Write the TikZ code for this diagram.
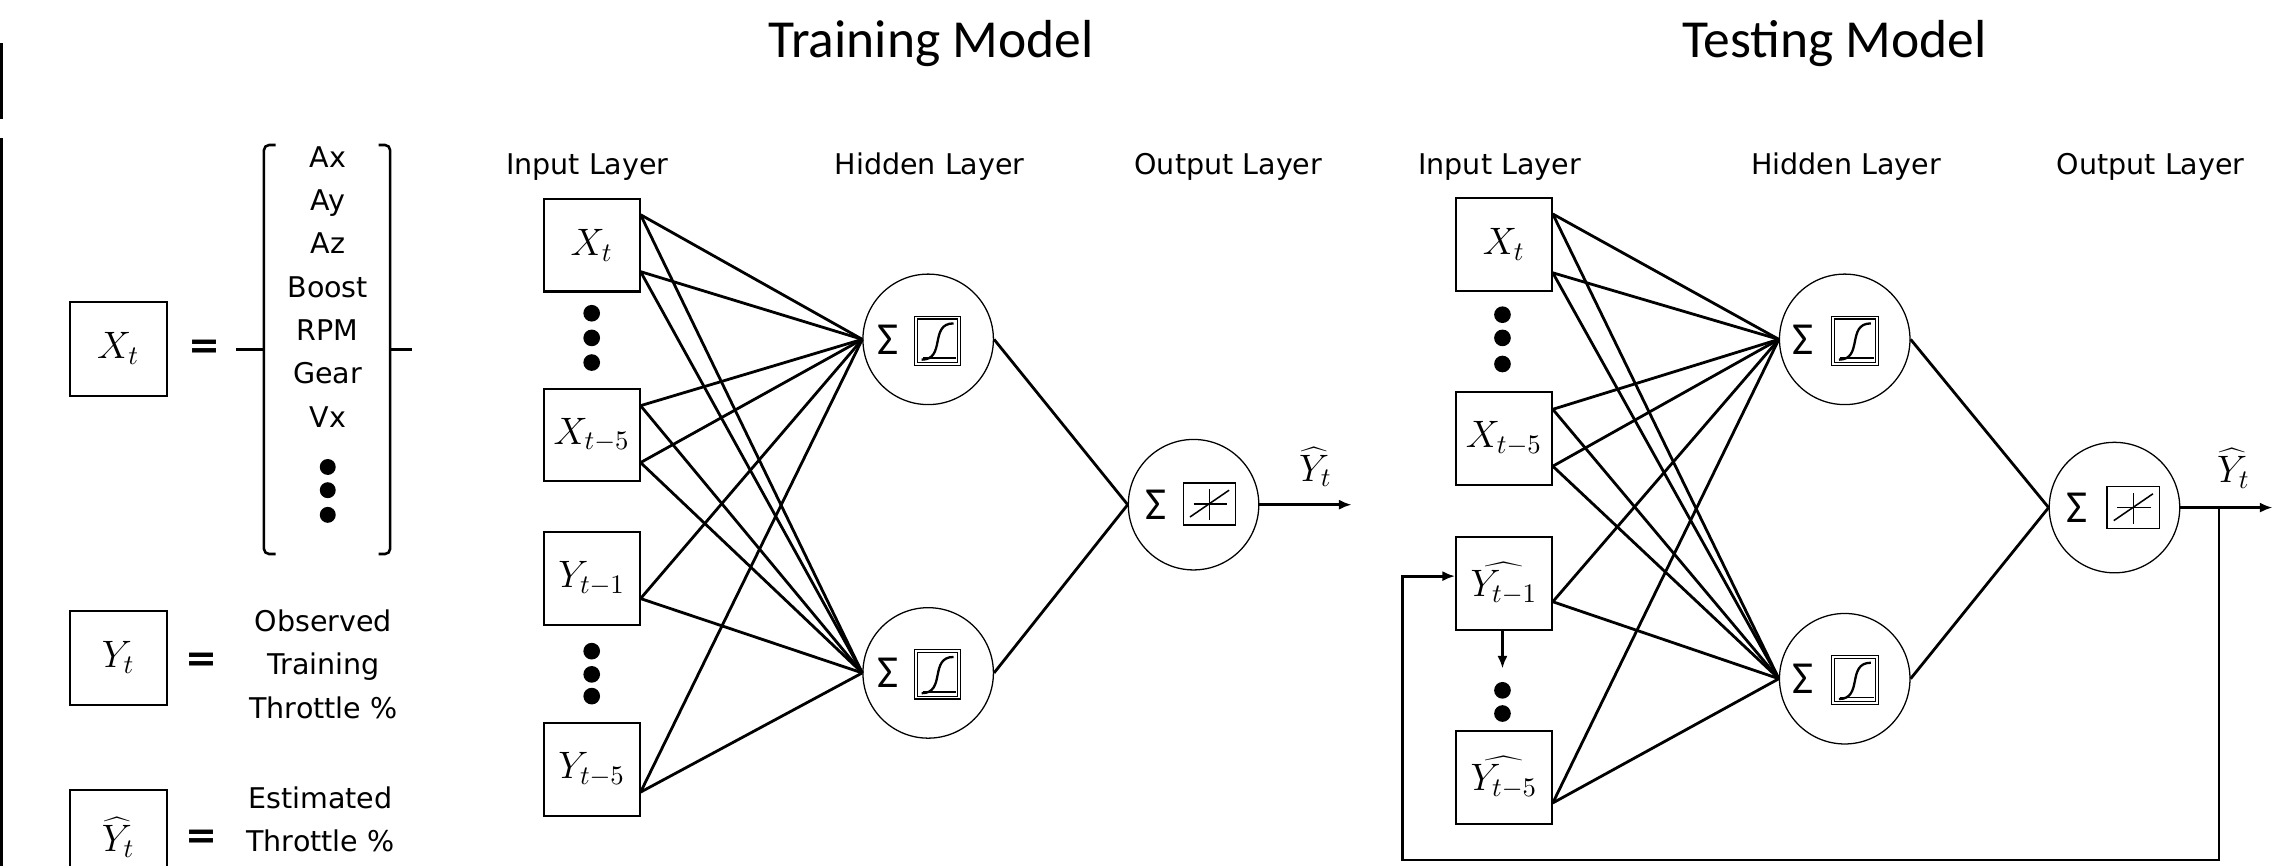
\RequirePackage{fix-cm}
\documentclass[tikz,border=0pt]{standalone}
\usepackage{fontspec}
\setmainfont{DejaVu Sans}
\newfontfamily\calfont{Carlito}
\usetikzlibrary{calc,arrows.meta}

\tikzset{
  inbox/.style={draw,line width=0.8pt,minimum width=1.32cm,minimum height=1.28cm,inner sep=0pt,font=\fontsize{15}{17}\selectfont},
  neuron/.style={draw,circle,line width=0.5pt,minimum size=1.8cm,inner sep=0pt},
  link/.style={line width=1.1pt},
  lyr/.style={font=\fontsize{11.2}{17}\selectfont,inner sep=0pt},
  itm/.style={lyr,text height=8pt,text depth=2pt},
  ttl/.style={font=\calfont\fontsize{21}{24}\selectfont},
  dotm/.style={fill,circle,inner sep=0pt,minimum size=0.23cm},
  sumtxt/.style={font=\calfont\fontsize{18}{20}\selectfont,inner sep=0pt},
  eqs/.style={font=\bfseries\fontsize{15}{17}\selectfont,inner sep=0pt},
  hatlbl/.style={font=\fontsize{15}{17}\selectfont,inner sep=0pt},
  sigicon/.pic={
    \draw[double,double distance=0.7pt,line width=0.45pt] (-15,-16) rectangle (15,16);
    \draw[line width=0.6pt] (-10,12) -- (13,12);
    \draw[line width=0.9pt] (-11,13) .. controls (6,13) and (-6,-12) .. (11,-12);
  },
  linicon/.pic={
    \draw[line width=0.6pt] (-18,-14.5) rectangle (18,14.5);
    \draw[line width=0.6pt] (-11,0) -- (12,0) (0,-10) -- (0,11);
    \draw[line width=0.6pt] (-13.5,9) -- (13.5,-9.5);
  }
}

\begin{document}
\begin{tikzpicture}[x=0.02cm,y=-0.02cm]
\clip (0,0) rectangle (1568,597);
% side rules
\draw[line width=1pt] (1,30) -- (1,82) (1,95) -- (1,597);

% legend
\node[inbox,minimum width=1.34cm,minimum height=1.3cm] (lx) at (81.5,240.5) {$X_t$};
\node[eqs] (eq1) at (141,241) {=};
\foreach \t [count=\i] in {Ax,Ay,Az,Boost,RPM,Gear,Vx}
  \node[itm] (ft\i) at (226,{80+29.9*\i}) {\t};
\foreach \yy [count=\i] in {322,338,355}
  \node[dotm,minimum size=0.22cm] (fd\i) at (226,\yy) {};
\draw[line width=1pt,rounded corners=2pt] (190,100) -- (182,100) -- (182,382) -- (190,382);
\draw[line width=1pt,rounded corners=2pt] (261,100) -- (269,100) -- (269,382) -- (261,382);
\draw[line width=1pt] (163,241) -- (182,241) (269,241) -- (284,241);

\node[inbox,minimum width=1.34cm,minimum height=1.3cm] (ly) at (81.5,453.5) {$Y_t$};
\node[eqs] (eq2) at (139,457) {=};
\node[lyr,align=center] (obs) at (223,458) {Observed\\Training\\Throttle \%};

\node[inbox,minimum width=1.34cm,minimum height=1.3cm] (lyh) at (81.5,577.5) {$\widehat{Y}_t$};
\node[eqs] (eq3) at (139,579) {=};
\node[lyr,align=center] (est) at (221,565) {Estimated\\Throttle \%};

% training model
\node[ttl] (trn) at (642,30) {Training Model};
\node[lyr] (tin) at (405,115) {Input Layer};
\node[lyr] (thd) at (641,115) {Hidden Layer};
\node[lyr] (tou) at (847,115) {Output Layer};

\node[inbox] (txt) at (408,169) {$X_t$};
\node[inbox] (txt5) at (408,300) {$X_{t-5}$};
\node[inbox] (tyt1) at (408,399) {$Y_{t-1}$};
\node[inbox] (tyt5) at (408,530.5) {$Y_{t-5}$};
\foreach \yy [count=\i] in {216,233,250,449,465,480}
  \node[dotm] (td\i) at (408,\yy) {};

\node[neuron] (th1) at (640,234) {};
\node[neuron] (th2) at (640,464) {};
\node[neuron] (tout) at (823,348) {};
\node[sumtxt] (th1s) at ($(th1)+(-28,0)$) {Σ};
\node[sumtxt] (th2s) at ($(th2)+(-28,0)$) {Σ};
\node[sumtxt] (touts) at ($(tout)+(-26,0)$) {Σ};
\pic at ($(th1)+(6.5,1)$) {sigicon};
\pic at ($(th2)+(6.5,1)$) {sigicon};
\pic at ($(tout)+(11,-0.5)$) {linicon};

\coordinate (tpa) at ($(txt.north east)!.18!(txt.south east)$);
\coordinate (tpb) at ($(txt.north east)!.78!(txt.south east)$);
\coordinate (tpc) at ($(txt5.north east)!.19!(txt5.south east)$);
\coordinate (tpd) at ($(txt5.north east)!.79!(txt5.south east)$);
\coordinate (tpe) at ($(tyt1.north east)!.71!(tyt1.south east)$);
\coordinate (tpf) at ($(tyt5.north east)!.74!(tyt5.south east)$);
\foreach \p in {tpa,tpb,tpc,tpd,tpe,tpf}{
  \draw[link] (\p) -- (th1.west);
  \draw[link] (\p) -- (th2.west);
}
\draw[link] (th1.east) -- (tout.west);
\draw[link] (th2.east) -- (tout.west);
\coordinate (tend) at (932,348);
\draw[link,-{Latex[length=5pt,width=4pt]}] (tout.east) -- (tend);
\node[hatlbl] (tyh) at (907,322) {$\widehat{Y}_t$};

% testing model
\node[ttl] (tst) at (1265,30) {Testing Model};
\node[lyr] (sin) at (1034,115) {Input Layer};
\node[lyr] (shd) at (1273,115) {Hidden Layer};
\node[lyr] (sou) at (1483,115) {Output Layer};

\node[inbox] (sxt) at (1037,168.5) {$X_t$};
\node[inbox] (sxt5) at (1037,302.5) {$X_{t-5}$};
\node[inbox] (syh1) at (1037,402.5) {$\widehat{Y_{t-1}}$};
\node[inbox] (syh5) at (1037,536) {$\widehat{Y_{t-5}}$};
\foreach \yy [count=\i] in {217,233,251,476,492}
  \node[dotm] (sd\i) at (1036,\yy) {};
\coordinate (sdn) at (1036,461);
\draw[link,-{Latex[length=5pt,width=4pt]}] (syh1.south-|sdn) -- (sdn);

\node[neuron] (sh1) at (1272,234) {};
\node[neuron] (sh2) at (1272,468) {};
\node[neuron] (sout) at (1458,350) {};
\node[sumtxt] (sh1s) at ($(sh1)+(-29,0)$) {Σ};
\node[sumtxt] (sh2s) at ($(sh2)+(-29,0)$) {Σ};
\node[sumtxt] (souts) at ($(sout)+(-26,0)$) {Σ};
\pic at ($(sh1)+(7,1)$) {sigicon};
\pic at ($(sh2)+(7,1)$) {sigicon};
\pic at ($(sout)+(13,0)$) {linicon};

\coordinate (spa) at ($(sxt.north east)!.18!(sxt.south east)$);
\coordinate (spb) at ($(sxt.north east)!.8!(sxt.south east)$);
\coordinate (spc) at ($(sxt5.north east)!.19!(sxt5.south east)$);
\coordinate (spd) at ($(sxt5.north east)!.79!(sxt5.south east)$);
\coordinate (spe) at ($(syh1.north east)!.69!(syh1.south east)$);
\coordinate (spf) at ($(syh5.north east)!.77!(syh5.south east)$);
\foreach \p in {spa,spb,spc,spd,spe,spf}{
  \draw[link] (\p) -- (sh1.west);
  \draw[link] (\p) -- (sh2.west);
}
\draw[link] (sh1.east) -- (sout.west);
\draw[link] (sh2.east) -- (sout.west);
\coordinate (send) at (1567,350);
\draw[link,-{Latex[length=5pt,width=4pt]}] (sout.east) -- (send);
\node[hatlbl] (syh) at (1540,323) {$\widehat{Y}_t$};

% feedback loop
\coordinate (sbr) at (1530,350);
\coordinate (sfb) at (967,593);
\coordinate (sin1) at ($(syh1.north west)!.42!(syh1.south west)$);
\draw[link,-{Latex[length=5pt,width=4pt]}] (sbr) |- (sfb) |- (sin1);
\end{tikzpicture}
\end{document}
